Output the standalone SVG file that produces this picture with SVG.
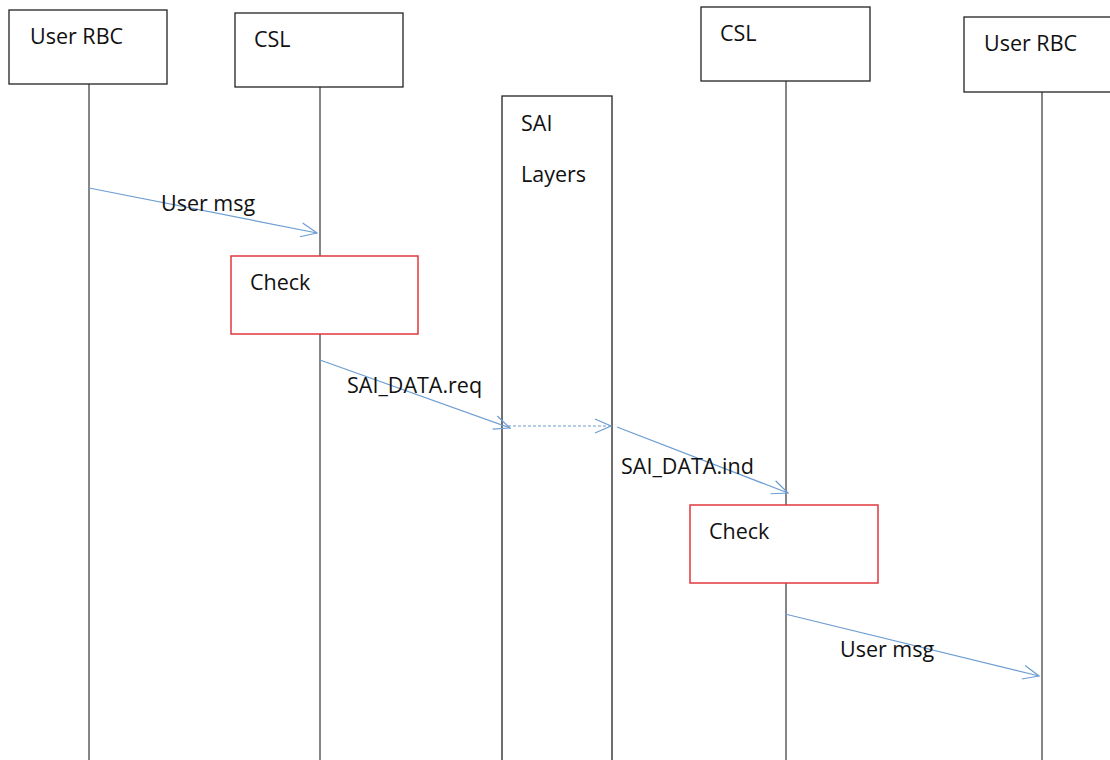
<svg xmlns="http://www.w3.org/2000/svg" width="1110" height="760" viewBox="0 0 1110 760">
<style>
.box{fill:#fff;stroke:#222;stroke-width:1.3}
.chk{fill:#fff;stroke:#e0393e;stroke-width:1.5}
.life{stroke:#444;stroke-width:1.3;fill:none}
.msg{stroke:#6d9dd1;stroke-width:1.2;fill:none}
.dash{stroke:#6d9dd1;stroke-width:1.2;fill:none;stroke-dasharray:3 2}
text{font-family:"Open Sans","Liberation Sans",sans-serif;font-size:21.5px;fill:#111}
</style>
<defs>
<marker id="open" viewBox="0 0 20 20" refX="18" refY="10" markerWidth="20" markerHeight="20" markerUnits="userSpaceOnUse" orient="auto">
<path d="M2,3 L18,10 L2,17" fill="none" stroke="#6d9dd1" stroke-width="1.2"/>
</marker>
</defs>
<rect width="1110" height="760" fill="#fff"/>
<g id="lifelines">
<line class="life" x1="89" y1="84" x2="89" y2="760"/>
<line class="life" x1="320" y1="87" x2="320" y2="760"/>
<line class="life" x1="786" y1="81" x2="786" y2="760"/>
<line class="life" x1="1042" y1="92" x2="1042" y2="760"/>
</g>
<g id="n-userrbc1"><rect class="box" x="9" y="10" width="158" height="74"/><text x="30" y="44">User RBC</text></g>
<g id="n-csl1"><rect class="box" x="235" y="13" width="168" height="74"/><text x="254" y="47">CSL</text></g>
<g id="n-sai"><rect class="box" x="502" y="96" width="110" height="670"/><text x="521" y="131">SAI</text><text x="521" y="182">Layers</text></g>
<g id="n-csl2"><rect class="box" x="701" y="7" width="169" height="74"/><text x="720" y="41">CSL</text></g>
<g id="n-userrbc2"><rect class="box" x="964" y="17" width="150" height="75"/><text x="984" y="51">User RBC</text></g>
<g id="n-check1"><rect class="chk" x="231" y="256" width="187" height="78"/><text x="250" y="290">Check</text></g>
<g id="n-check2"><rect class="chk" x="690" y="505" width="188" height="78"/><text x="709" y="539">Check</text></g>
<g id="connectors">
<line class="msg" x1="89" y1="188" x2="317" y2="233" marker-end="url(#open)"/>
<line class="msg" x1="320" y1="360" x2="510" y2="428" marker-end="url(#open)"/>
<line class="dash" x1="508" y1="426" x2="611" y2="426" marker-end="url(#open)"/>
<line class="msg" x1="617" y1="427" x2="788" y2="493" marker-end="url(#open)"/>
<line class="msg" x1="785" y1="614" x2="1039" y2="676" marker-end="url(#open)"/>
</g>
<g id="labels">
<text x="161" y="211">User msg</text>
<text x="347" y="393">SAI_DATA.req</text>
<text x="621" y="474">SAI_DATA.ind</text>
<text x="840" y="657">User msg</text>
</g>
</svg>
